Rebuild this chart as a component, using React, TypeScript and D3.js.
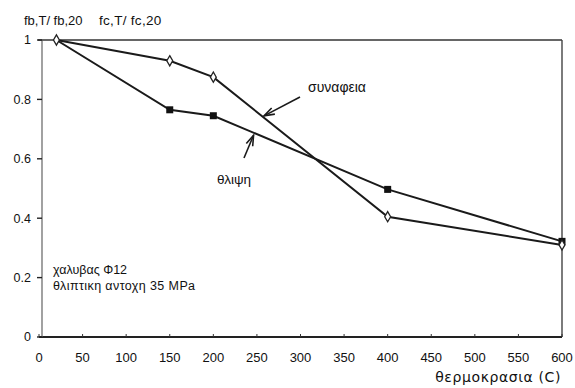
import React from "react";
import * as d3 from "d3";

const temps = [20, 150, 200, 400, 600];
const bondValues = [1, 0.93, 0.875, 0.405, 0.31];
const compValues = [1, 0.765, 0.745, 0.497, 0.322];
const xTicks = [0, 50, 100, 150, 200, 250, 300, 350, 400, 450, 500, 550, 600];
const yTicks = [0, 0.2, 0.4, 0.6, 0.8, 1];
const yTickLabels = ["0", "0.2", "0.4", "0.6", "0.8", "1"];
const headerLabels = ["fb,T/ fb,20", "fc,T/ fc,20"];
const bondLabel = "συναφεια";
const compLabel = "θλιψη";
const noteLines = ["χαλυβας Φ12", "θλιπτικη αντοχη 35 MPa"];
const xTitle = "θερμοκρασια (C)";

const W = 575;
const H = 388;
const font = "'Liberation Sans', Arial, sans-serif";
const gfont = "'DejaVu Sans', 'Liberation Sans', sans-serif";

export default function App() {
  const x = d3.scaleLinear().domain([0, 600]).range([39, 562]);
  const y = d3.scaleLinear().domain([0, 1]).range([337, 40]);
  const bond = temps.map((t, i) => [t, bondValues[i]] as [number, number]);
  const comp = temps.map((t, i) => [t, compValues[i]] as [number, number]);
  const line = d3
    .line<[number, number]>()
    .x((d) => x(d[0]))
    .y((d) => y(d[1]));

  const stroke = "#1a1a1a";

  const arrow = (x1: number, y1: number, x2: number, y2: number) => {
    const ang = Math.atan2(y2 - y1, x2 - x1);
    const len = 11;
    const spread = 0.32;
    const a1 = ang + Math.PI - spread;
    const a2 = ang + Math.PI + spread;
    return (
      <g stroke={stroke} strokeWidth={1.6} fill="none">
        <line x1={x1} y1={y1} x2={x2} y2={y2} />
        <polyline
          points={`${x2 + len * Math.cos(a1)},${y2 + len * Math.sin(a1)} ${x2},${y2} ${x2 + len * Math.cos(a2)},${y2 + len * Math.sin(a2)}`}
        />
      </g>
    );
  };

  const bondT = 257;
  const bondY = y(d3.scaleLinear().domain([200, 400]).range([bondValues[2], bondValues[3]])(bondT));
  const compT = 245;
  const compY = y(d3.scaleLinear().domain([200, 400]).range([compValues[2], compValues[3]])(compT));

  return (
    <svg width={W} height={H} style={{ position: "absolute", left: 0, top: 0, background: "#fff" }}>
      <rect x={0} y={0} width={W} height={H} fill="#fff" />
      {/* frame */}
      <line x1={x(0) - 1} y1={y(1)} x2={x(600)} y2={y(1)} stroke="#333" strokeWidth={1.6} />
      <line x1={x(600)} y1={y(1)} x2={x(600)} y2={y(0)} stroke="#444" strokeWidth={1.4} />
      <line x1={x(0)} y1={y(0)} x2={x(600)} y2={y(0)} stroke="#222" strokeWidth={1.8} />
      <line x1={42} y1={y(1)} x2={42} y2={y(0)} stroke="#555" strokeWidth={1.1} />
      {/* y ticks */}
      {yTicks.map((v, i) => (
        <g key={"y" + i}>
          <line x1={37} x2={42} y1={y(v)} y2={y(v)} stroke="#222" strokeWidth={1.4} />
          <text x={31} y={y(v)} dy="0.35em" textAnchor="end" fontFamily={font} fontSize={12.5} fill="#111">
            {yTickLabels[i]}
          </text>
        </g>
      ))}
      {/* x ticks */}
      {xTicks.map((v) => (
        <g key={"x" + v}>
          <line x1={x(v)} x2={x(v)} y1={y(0)} y2={y(0) - 3} stroke="#333" strokeWidth={1} />
          <text x={x(v)} y={357} dy="0.35em" textAnchor="middle" fontFamily={font} fontSize={13} fill="#111">
            {v}
          </text>
        </g>
      ))}
      <text x={561} y={377} dy="0.35em" textAnchor="end" fontFamily={gfont} fontSize={14} letterSpacing={0.6} fill="#111">
        {xTitle}
      </text>
      {/* header */}
      <text x={24} y={20} dy="0.35em" fontFamily={font} fontSize={13} fill="#111">
        {headerLabels[0]}
      </text>
      <text x={99} y={20} dy="0.35em" fontFamily={font} fontSize={13.5} letterSpacing={0.3} fill="#111">
        {headerLabels[1]}
      </text>
      {/* lines */}
      <path d={line(comp) || ""} fill="none" stroke={stroke} strokeWidth={2} />
      <path d={line(bond) || ""} fill="none" stroke={stroke} strokeWidth={2} />
      {/* markers */}
      {comp.slice(1).map((d, i) => (
        <rect key={"c" + i} x={x(d[0]) - 3.5} y={y(d[1]) - 3.5} width={7} height={7} fill="#111" />
      ))}
      {bond.map((d, i) => (
        <path
          key={"b" + i}
          d={d3.symbol().type(d3.symbolDiamond).size(30)() || ""}
          transform={`translate(${x(d[0])},${y(d[1])})`}
          fill="#fff"
          stroke="#222"
          strokeWidth={1.3}
        />
      ))}
      {/* annotations */}
      {arrow(300, 97, x(bondT) + 1, bondY - 1)}
      <text x={308} y={87} dy="0.35em" fontFamily={font} fontSize={14} fill="#111">
        {bondLabel}
      </text>
      {arrow(244, 158, x(compT) + 1, compY + 3)}
      <text x={217} y={179} dy="0.35em" fontFamily={font} fontSize={13.5} fill="#111">
        {compLabel}
      </text>
      <text x={53} y={270} dy="0.35em" fontFamily={font} fontSize={12.5} fill="#111">
        {noteLines[0]}
      </text>
      <text x={53} y={286} dy="0.35em" fontFamily={font} fontSize={12.5} letterSpacing={0.4} fill="#111">
        {noteLines[1]}
      </text>
    </svg>
  );
}
